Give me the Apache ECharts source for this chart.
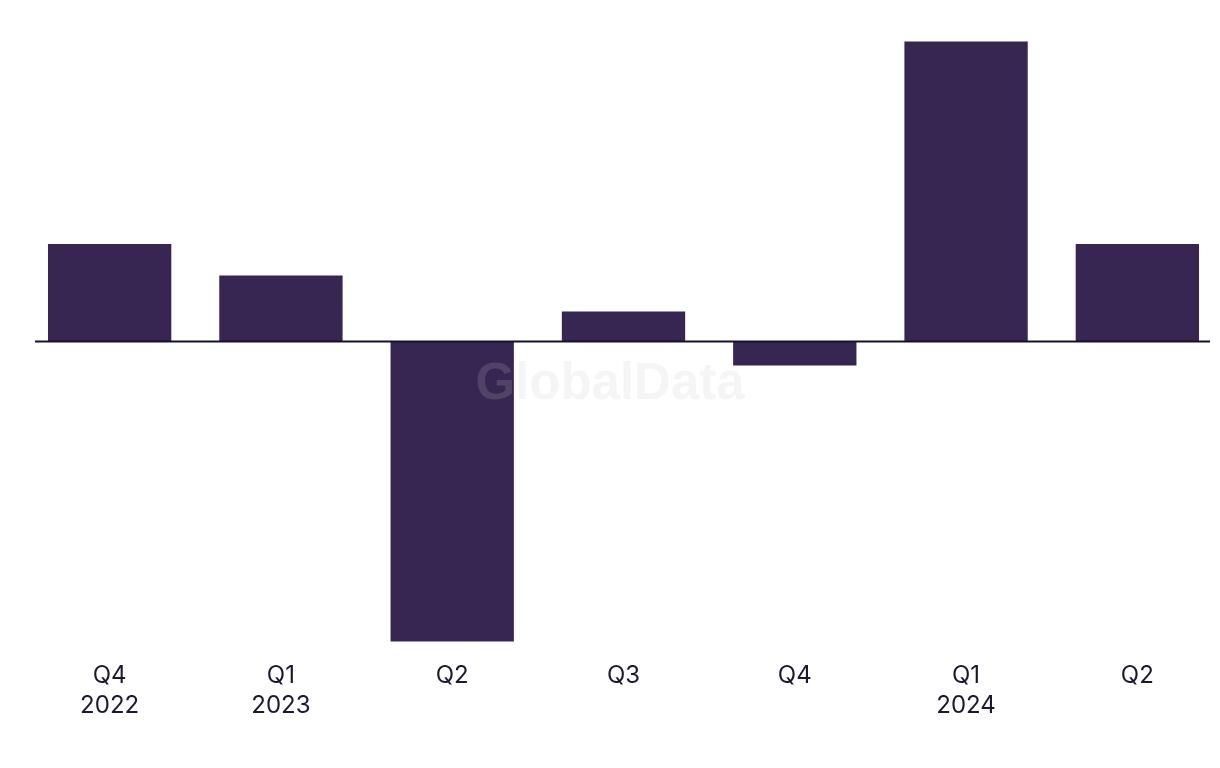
<!DOCTYPE html>
<html>
<head>
<meta charset="utf-8">
<script src="https://cdn.jsdelivr.net/npm/echarts@6/dist/echarts.min.js"></script>
<style>
html,body{margin:0;padding:0;background:#fff;}
#c{width:1220px;height:768px;}
</style>
</head>
<body>
<div id="c"></div>
<script>
const categories = ['Q4\n2022', 'Q1\n2023', 'Q2', 'Q3', 'Q4', 'Q1\n2024', 'Q2'];
const values = [3.25, 2.2, -10.0, 1.0, -0.8, 10.0, 3.25];

const chart = echarts.init(document.getElementById('c'));
chart.setOption({
  animation: false,
  backgroundColor: '#ffffff',
  grid: { left: 24, width: 1199, top: 41.5, height: 600, containLabel: false, outerBoundsMode: 'none' },
  xAxis: {
    type: 'category',
    data: categories,
    axisLine: { show: false },
    axisTick: { show: false },
    axisLabel: {
      margin: 19,
      fontFamily: 'Inter',
      fontSize: 24,
      lineHeight: 30,
      color: '#1b1a2c'
    }
  },
  yAxis: {
    type: 'value',
    min: -10,
    max: 10,
    show: false,
    splitLine: { show: false }
  },
  series: [{
    type: 'bar',
    data: values,
    barWidth: '72%',
    itemStyle: { color: '#372552' }
  }]
});

const y0 = chart.convertToPixel({ yAxisIndex: 0 }, 0);
chart.setOption({
  graphic: [
    {
      type: 'line',
      shape: { x1: 35, y1: y0, x2: 1210, y2: y0 },
      style: { stroke: '#15122a', lineWidth: 2 },
      z: 10
    },
    {
      type: 'text',
      x: 610,
      y: 385,
      style: {
        text: 'GlobalData',
        font: 'bold 51px "Liberation Sans"',
        align: 'center',
        verticalAlign: 'middle',
        fill: 'rgba(200,200,205,0.18)'
      },
      z: 20
    }
  ]
});
</script>
</body>
</html>
